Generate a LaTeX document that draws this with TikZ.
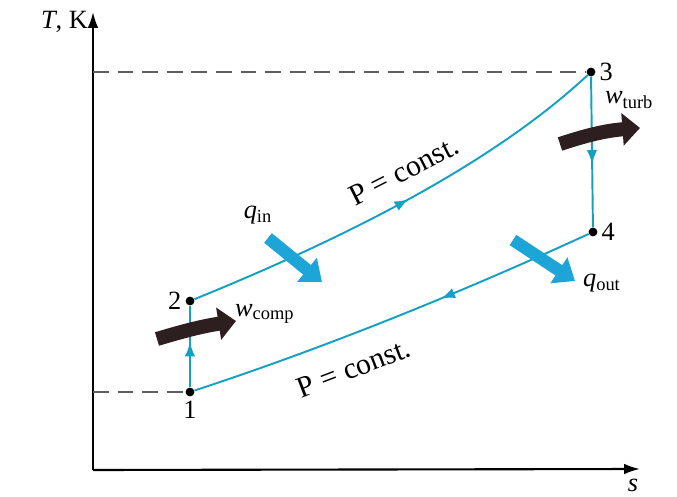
\documentclass[tikz,border=0pt]{standalone}
\usepackage{fontspec}
\setmainfont{Liberation Serif}
\usetikzlibrary{arrows.meta,decorations.markings,positioning}
\definecolor{cycblue}{RGB}{20,160,195}
\definecolor{heatblue}{RGB}{30,165,215}
\definecolor{workdark}{RGB}{45,30,32}
\definecolor{axisgray}{RGB}{95,95,95}

\begin{document}
\begin{tikzpicture}[x=0.02cm, y=-0.02cm,
    cyc/.style={draw=cycblue, line width=1.1pt},
    midarrow/.style={postaction={decorate}, decoration={markings,
        mark=at position #1 with {\arrow[cycblue]{Latex[length=8pt,width=6pt]}}}},
    pt/.style={circle, fill=black, inner sep=0pt, minimum size=5pt},
    heat/.style={draw=heatblue, line width=7pt, -{Triangle[length=11pt,width=17pt]}},
    work/.style={draw=workdark, line width=8pt, -{Triangle[length=10pt,width=18pt]}},
    lbl/.style={font=\fontsize{15}{17}\selectfont, inner sep=1pt},
    plbl/.style={font=\fontsize{17}{19}\selectfont, inner sep=1pt},
    ]
    \useasboundingbox (0,0) rectangle (677,497);

    % Axes
    \coordinate (O) at (93,470);
    \coordinate (Ttop) at (93,12);
    \coordinate (Send) at (640,469);
    \draw[line width=1.2pt, -{Latex[length=9pt,width=6pt]}] (O) -- (Ttop);
    \draw[line width=1.2pt, -{Latex[length=9pt,width=6pt]}] (O) -- (Send);
    \node[lbl, anchor=east] (Tlab) at (90,22) {\textit{T}, K};
    \node[lbl, inner sep=0pt] (slab) at (633,485) {\textit{s}};

    % States
    \node[pt] (n1) at (190,392) {};
    \node[pt] (n2) at (190,301) {};
    \node[pt] (n3) at (591,72) {};
    \node[pt] (n4) at (593,232) {};
    \node[lbl, below=1pt of n1] (l1) {1};
    \node[lbl, left=1pt of n2] (l2) {2};
    \node[lbl, right=1pt of n3] (l3) {3};
    \node[lbl, right=1pt of n4] (l4) {4};

    % Dashed levels
    \coordinate (d3) at (93,72);
    \coordinate (d1) at (93,392);
    \draw[axisgray, line width=1pt, dash pattern=on 9pt off 5pt] (d3) -- (n3);
    \draw[axisgray, line width=1pt, dash pattern=on 9pt off 5pt] (d1) -- (n1);

    % Cycle
    \draw[cyc, midarrow=0.55] (n1) -- (n2);
    \draw[cyc, midarrow=0.52] (n2) .. controls (340,240) and (490,166) .. (n3);
    \draw[cyc, midarrow=0.58] (n3) -- (n4);
    \draw[cyc, midarrow=0.38] (n4) .. controls (462,292) and (330,346) .. (n1);
    \node[plbl, rotate=27] (pup) at (404,171) {P = const.};
    \node[plbl, rotate=21] (plow) at (354,368) {P = const.};

    % Heat
    \coordinate (qinS) at (268,238);
    \coordinate (qinE) at (322,282);
    \draw[heat] (qinS) -- (qinE);
    \node[lbl] (qin) at (258,215) {\textit{q}\textsubscript{in}};
    \coordinate (qoutS) at (513,240);
    \coordinate (qoutE) at (575,281);
    \draw[heat] (qoutS) -- (qoutE);
    \node[lbl, anchor=west] (qout) at (581,283) {\textit{q}\textsubscript{out}};

    % Work
    \coordinate (wcS) at (157,339);
    \coordinate (wcE) at (236,321);
    \draw[work] (wcS) to[bend left=4] (wcE);
    \node[lbl, anchor=west] (wcomp) at (233,314) {\textit{w}\textsubscript{comp}};
    \coordinate (wtS) at (560,144);
    \coordinate (wtE) at (640,128);
    \draw[work] (wtS) to[bend left=7] (wtE);
    \node[lbl, anchor=west] (wturb) at (603,100) {\textit{w}\textsubscript{turb}};
\end{tikzpicture}
\end{document}
